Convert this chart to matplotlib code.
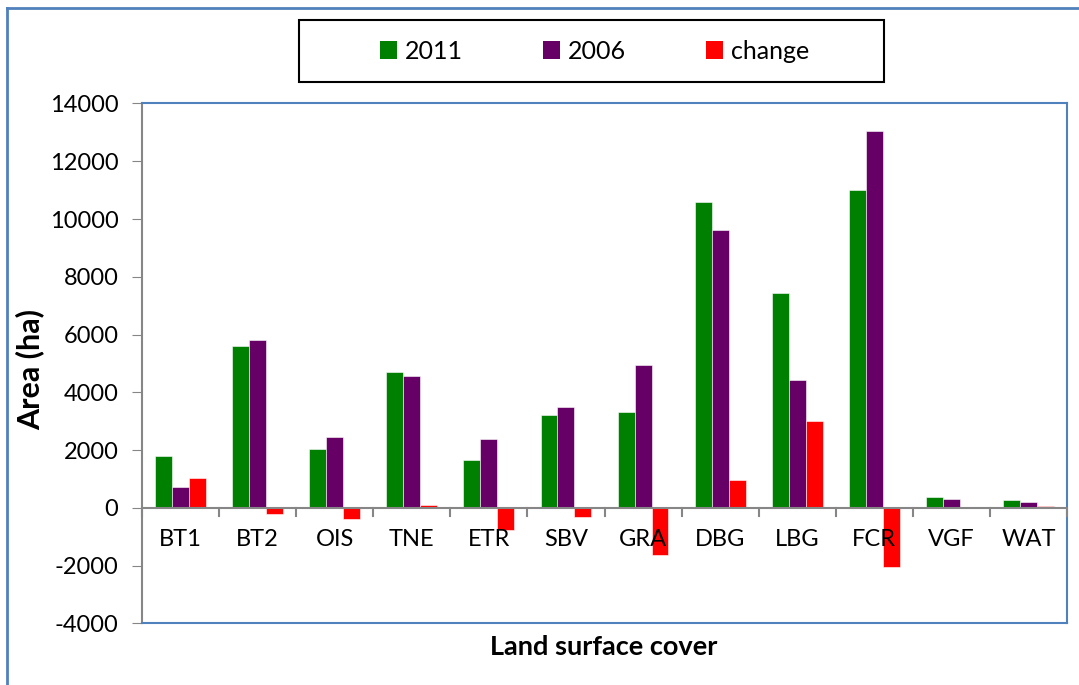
import numpy as np
import matplotlib.pyplot as plt
from matplotlib.patches import Patch, Rectangle
from matplotlib.lines import Line2D

categories = ["BT1", "BT2", "OIS", "TNE", "ETR", "SBV", "GRA", "DBG", "LBG", "FCR", "VGF", "WAT"]
area_2011 = [1800, 5600, 2050, 4700, 1650, 3200, 3320, 10600, 7450, 11000, 380, 270]
area_2006 = [730, 5800, 2450, 4550, 2400, 3480, 4950, 9620, 4420, 13050, 320, 200]
change = [1040, -200, -390, 100, -760, -300, -1640, 960, 3020, -2050, 25, 60]
series_names = ["2011", "2006", "change"]

plt.rcParams['font.family'] = ['Lato', 'DejaVu Sans']
plt.rcParams['axes.unicode_minus'] = False

fig = plt.figure(figsize=(10.79, 6.85), dpi=100)
ax = fig.add_axes([0.1316, 0.0898, 0.8573, 0.7592])

x = np.arange(len(categories))
w = 0.22
colors = ["#008000", "#660066", "#ff0000"]
for i, (vals, c) in enumerate(zip([area_2011, area_2006, change], colors)):
    ax.bar(x + (i - 1) * w, vals, w, color=c, edgecolor="white", linewidth=0.4, zorder=2)

ax.set_xlim(-0.5, len(categories) - 0.5)
ax.set_ylim(-4000, 14000)
ax.set_yticks(range(-4000, 14001, 2000))
ax.tick_params(axis='y', labelsize=17, length=7, color="#868686", direction='out', pad=10)

# category axis drawn at zero
ax.set_xticks([])
ax.axhline(0, color="#868686", linewidth=1.5, zorder=3)
for b in np.arange(-0.5, len(categories), 1.0):
    ax.plot([b, b], [0, -270], color="#868686", linewidth=1.5, zorder=3, clip_on=False)
for xi, lab in zip(x, categories):
    ax.text(xi, -1100, lab, ha='center', va='center', fontsize=17)

for s in ["top", "right", "bottom"]:
    ax.spines[s].set_color("#4f81bd")
    ax.spines[s].set_linewidth(1.5)
ax.spines["left"].set_color("#868686")
ax.spines["left"].set_linewidth(1.5)

ax.set_ylabel("Area (ha)", fontsize=22, fontweight='bold')
ax.yaxis.set_label_coords(-0.106, 0.488)
fig.text(0.5595, 1 - 647 / 685, "Land surface cover", ha='center', va='center',
         fontsize=19.5, fontweight='bold')

handles = [Patch(facecolor=c, edgecolor="none") for c in colors]
leg = fig.legend(handles, series_names, loc='center', bbox_to_anchor=(0.551, 0.9255),
                 ncol=3, fontsize=18, frameon=False, handlelength=0.7,
                 handleheight=0.7, handletextpad=0.3, columnspacing=3.2)
fig.add_artist(Rectangle((299 / 1079, 1 - 82 / 685), 585 / 1079, 62 / 685,
                         transform=fig.transFigure, fill=False, edgecolor="black", linewidth=1.5))

# outer chart frame (top and left edges visible)
fig.add_artist(Line2D([7 / 1079, 1.0], [1 - 8 / 685, 1 - 8 / 685], color="#4f81bd", linewidth=2,
                      transform=fig.transFigure))
fig.add_artist(Line2D([7 / 1079, 7 / 1079], [0, 1 - 8 / 685], color="#4f81bd", linewidth=2,
                      transform=fig.transFigure))

fig.savefig("out.png", dpi=100)
